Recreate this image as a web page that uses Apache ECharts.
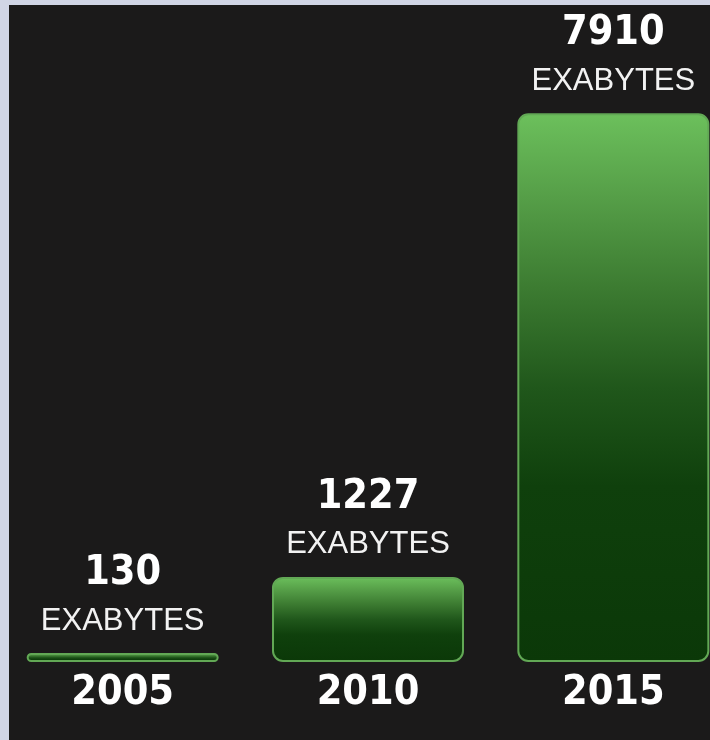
<!DOCTYPE html>
<html>
<head>
<meta charset="utf-8">
<script src="https://cdn.jsdelivr.net/npm/echarts@6/dist/echarts.min.js"></script>
<style>
html,body{margin:0;padding:0;background:#d1d5e5;}
#chart{width:710px;height:740px;}
</style>
</head>
<body>
<div id="chart"></div>
<script>
const categories = ['2005', '2010', '2015'];
const values = [130, 1227, 7910];
const unitLabel = 'EXABYTES';

const chart = echarts.init(document.getElementById('chart'));
const barGradient = new echarts.graphic.LinearGradient(0, 0, 0, 1, [
  {offset: 0, color: '#6cc05c'},
  {offset: 0.15, color: '#569f48'},
  {offset: 0.32, color: '#3c7b31'},
  {offset: 0.5, color: '#20571b'},
  {offset: 0.68, color: '#0f400c'},
  {offset: 1, color: '#0b3808'}
]);
const numFont = '"DejaVu Sans Condensed", "Liberation Sans", Arial, sans-serif';
chart.setOption({
  backgroundColor: '#d1d5e5',
  animation: false,
  graphic: [{
    type: 'rect', z: -10, silent: true,
    shape: {x: 9, y: 5, width: 701, height: 735},
    style: {fill: '#1b1a1a'}
  }],
  grid: {left: 0, width: 736, top: 107, bottom: 78, outerBoundsMode: 'none', containLabel: false},
  xAxis: {
    type: 'category',
    data: categories,
    axisLine: {show: false},
    axisTick: {show: false},
    axisLabel: {
      color: '#ffffff',
      fontFamily: numFont,
      fontWeight: 'bold',
      fontSize: 41,
      lineHeight: 42,
      margin: 10
    }
  },
  yAxis: {
    type: 'value',
    min: 0,
    max: 8000,
    show: false,
    splitLine: {show: false}
  },
  series: [{
    type: 'bar',
    data: values,
    barWidth: 192,
    itemStyle: {
      color: barGradient,
      borderColor: '#62a855',
      borderWidth: 2,
      borderRadius: 10
    },
    label: {
      show: true,
      position: 'top',
      distance: 9,
      formatter: function (p) { return '{v|' + p.value + '}\n{u|' + unitLabel + '}'; },
      rich: {
        v: {
          color: '#ffffff',
          fontFamily: numFont,
          fontWeight: 'bold',
          fontSize: 41,
          lineHeight: 50,
          align: 'center'
        },
        u: {
          color: '#f2f2f2',
          fontFamily: 'Liberation Sans, Arial, sans-serif',
          fontSize: 31,
          lineHeight: 46,
          align: 'center'
        }
      }
    }
  }]
});
</script>
</body>
</html>
